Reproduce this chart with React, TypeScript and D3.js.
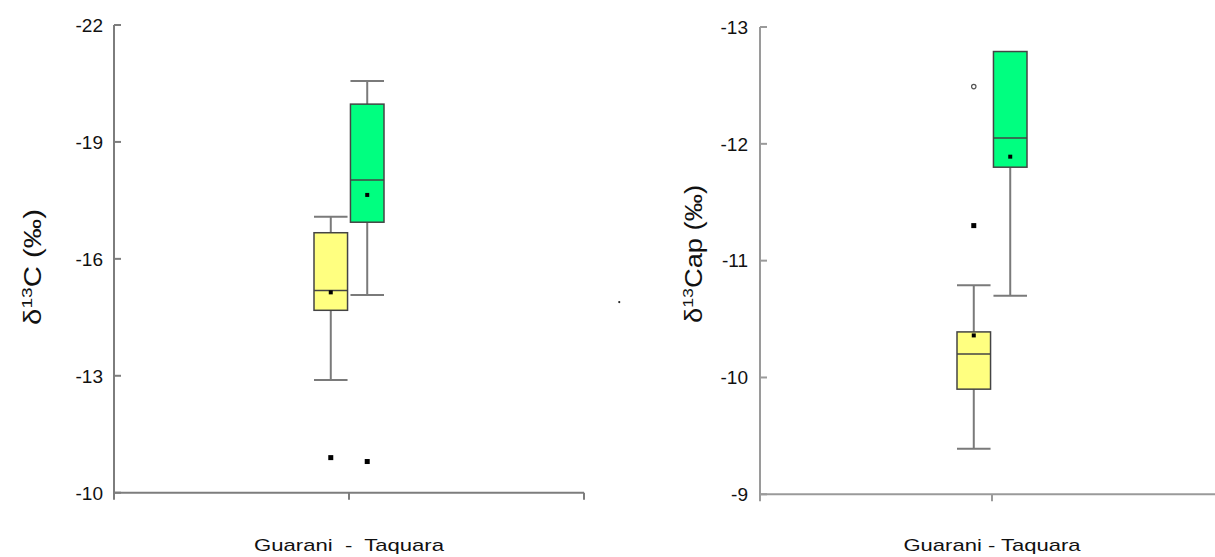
import React from "react";
import * as d3 from "d3";

const series = ["Guarani", "Taquara"];
const seriesColors = ["#ffff80", "#00ff80"];
const xCategoryLabelLeft = "Guarani  -  Taquara";
const xCategoryLabelRight = "Guarani - Taquara";

// Panel 1: δ13C collagen
const c13Ticks = [-22, -19, -16, -13, -10];
const c13Min = [-12.89, -15.07];
const c13Q1 = [-14.68, -16.94];
const c13Median = [-15.19, -18.02];
const c13Q3 = [-16.67, -19.97];
const c13Max = [-17.08, -20.56];
const c13Mean = [-15.14, -17.64];
const c13Outliers = [[-10.9], [-10.8]];
const c13Stray = [{ x: 2.15, v: -14.89 }];

// Panel 2: δ13C apatite
const capTicks = [-13, -12, -11, -10, -9];
const capMin = [-9.39, -10.7];
const capQ1 = [-9.9, -11.8];
const capMedian = [-10.2, -12.05];
const capQ3 = [-10.39, -12.79];
const capMax = [-10.79, -12.79];
const capMean = [-10.36, -11.89];
const capOutliers = [[-11.3], []];
const capExtremes = [[-12.49], []];

const FONT = "'Liberation Sans', Arial, sans-serif";

type PanelProps = {
  axisX: number;
  axisEnd: number;
  yTop: number;
  yBottom: number;
  domain: [number, number];
  ticks: number[];
  min: number[];
  q1: number[];
  median: number[];
  q3: number[];
  max: number[];
  mean: number[];
  outliers: number[][];
  extremes: number[][];
  stray: { x: number; v: number }[];
  title: string;
  titleX: number;
  titleY: number;
  titleLen: number;
  xLabel: string;
  xLabelLen: number;
  axisColor: string;
  labelGap: number;
};

function Panel(p: PanelProps) {
  const y = d3.scaleLinear().domain(p.domain).range([p.yBottom, p.yTop]);
  const x = d3.scaleLinear().domain([0, 2]).range([p.axisX, p.axisEnd]);
  const band = d3.scaleBand<string>().domain(series).range([-35, 35]).paddingInner(0.08);
  const cx = x(1);
  const bw = band.bandwidth();
  const whiskerColor = "#7a7a7a";
  const boxStroke = "#444";
  return (
    <g>
      {/* y axis */}
      <line x1={p.axisX} x2={p.axisX} y1={y(p.domain[1])} y2={y(p.domain[0]) + 7} stroke={p.axisColor} strokeWidth={2} />
      {p.ticks.map((t) => (
        <g key={t}>
          <line x1={p.axisX} x2={p.axisX + 7} y1={y(t)} y2={y(t)} stroke={p.axisColor} strokeWidth={2} />
          <text x={p.axisX - p.labelGap} y={y(t)} dy="0.36em" textAnchor="end" fontSize={19} fontFamily={FONT} fill="#111">
            {t}
          </text>
        </g>
      ))}
      {/* x axis */}
      <line x1={p.axisX} x2={p.axisEnd} y1={y(p.domain[0])} y2={y(p.domain[0])} stroke={p.axisColor} strokeWidth={2} />
      <line x1={cx} x2={cx} y1={y(p.domain[0])} y2={y(p.domain[0]) + 7} stroke={p.axisColor} strokeWidth={2} />
      <line x1={x(2)} x2={x(2)} y1={y(p.domain[0])} y2={y(p.domain[0]) + 7} stroke={p.axisColor} strokeWidth={2} />
      <text x={cx} y={551} textAnchor="middle" fontSize={17} fontFamily={FONT} fill="#111" textLength={p.xLabelLen} lengthAdjust="spacingAndGlyphs" style={{ whiteSpace: "pre" }}>
        {p.xLabel}
      </text>
      {/* title */}
      <text transform={`translate(${p.titleX},${p.titleY}) rotate(-90)`} textAnchor="middle" fontSize={23} fontFamily={FONT} fill="#111" textLength={p.titleLen} lengthAdjust="spacingAndGlyphs">
        <tspan>δ</tspan>
        <tspan fontSize={15} dy={-9}>13</tspan>
        <tspan dy={9}>{p.title}</tspan>
      </text>
      {/* boxes */}
      {series.map((s, i) => {
        const bx = cx + (band(s) as number);
        const mid = bx + bw / 2;
        const top = y(p.q3[i]);
        const bot = y(p.q1[i]);
        return (
          <g key={s}>
            {p.max[i] !== p.q3[i] && (
              <>
                <line x1={mid} x2={mid} y1={y(p.max[i])} y2={top} stroke={whiskerColor} strokeWidth={2} />
                <line x1={bx} x2={bx + bw} y1={y(p.max[i])} y2={y(p.max[i])} stroke={whiskerColor} strokeWidth={2} />
              </>
            )}
            <line x1={mid} x2={mid} y1={bot} y2={y(p.min[i])} stroke={whiskerColor} strokeWidth={2} />
            <line x1={bx} x2={bx + bw} y1={y(p.min[i])} y2={y(p.min[i])} stroke={whiskerColor} strokeWidth={2} />
            <rect x={bx} y={top} width={bw} height={bot - top} fill={seriesColors[i]} stroke={boxStroke} strokeWidth={1.5} />
            <line x1={bx} x2={bx + bw} y1={y(p.median[i])} y2={y(p.median[i])} stroke="#444" strokeWidth={1.5} />
            <rect x={mid - 2} y={y(p.mean[i]) - 2} width={4} height={4} fill="#000" />
            {p.outliers[i].map((o, k) => (
              <rect key={k} x={mid - 2.5} y={y(o) - 2.5} width={5} height={5} fill="#000" />
            ))}
            {p.extremes[i].map((o, k) => (
              <circle key={k} cx={mid} cy={y(o)} r={2.2} fill="#fff" stroke="#555" strokeWidth={1.2} />
            ))}
          </g>
        );
      })}
      {p.stray.map((d, k) => (
        <circle key={k} cx={x(d.x)} cy={y(d.v)} r={1.1} fill="#222" />
      ))}
    </g>
  );
}

export default function App() {
  return (
    <svg width={1215} height={557} style={{ position: "absolute", left: 0, top: 0, background: "#fff" }}>
      <rect width={1215} height={557} fill="#fff" />
      <Panel
        axisX={114}
        axisEnd={584}
        yTop={25}
        yBottom={492.7}
        domain={[-10, -22]}
        ticks={c13Ticks}
        min={c13Min}
        q1={c13Q1}
        median={c13Median}
        q3={c13Q3}
        max={c13Max}
        mean={c13Mean}
        outliers={c13Outliers}
        extremes={[[], []]}
        stray={c13Stray}
        title="C (‰)"
        titleX={41}
        titleY={267}
        titleLen={116}
        xLabel={xCategoryLabelLeft}
        xLabelLen={190}
        axisColor="#7d7d7d"
        labelGap={11}
      />
      <Panel
        axisX={760}
        axisEnd={1224}
        yTop={27}
        yBottom={494.3}
        domain={[-9, -13]}
        ticks={capTicks}
        min={capMin}
        q1={capQ1}
        median={capMedian}
        q3={capQ3}
        max={capMax}
        mean={capMean}
        outliers={capOutliers}
        extremes={capExtremes}
        stray={[]}
        title="Cap (‰)"
        titleX={702}
        titleY={254}
        titleLen={138}
        xLabel={xCategoryLabelRight}
        xLabelLen={177}
        axisColor="#9a9a9a"
        labelGap={12}
      />
    </svg>
  );
}
